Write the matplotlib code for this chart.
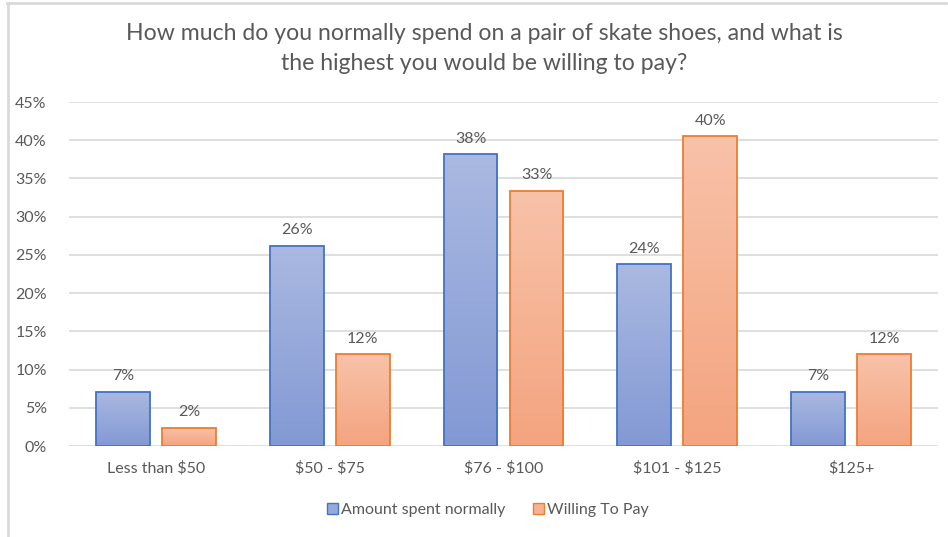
import matplotlib.pyplot as plt
import matplotlib.lines as mlines
import matplotlib.patches as mpatches
import numpy as np

plt.rcParams['font.family'] = ['Lato', 'DejaVu Sans']
plt.rcParams['text.parse_math'] = False

categories = ['Less than $50', '$50 - $75', '$76 - $100', '$101 - $125', '$125+']
spent = [7.1, 26.2, 38.2, 23.8, 7.1]
willing = [2.4, 12.0, 33.4, 40.5, 12.0]
series_names = ['Amount spent normally', 'Willing To Pay']
yticks = [0, 5, 10, 15, 20, 25, 30, 35, 40, 45]

grey = '#595959'
grid_col = '#D9D9D9'
blue_edge, orange_edge = '#4472C4', '#ED7D31'
blue_grad = ('#AAB9E1', '#8399D4')   # top, bottom
orange_grad = ('#F8C2A9', '#F4A47F')


def fill_gradient(ax, bar, top, bottom):
    x0, y0 = bar.get_x(), bar.get_y()
    w, h = bar.get_width(), bar.get_height()
    c_top = np.array(plt.matplotlib.colors.to_rgb(top))
    c_bot = np.array(plt.matplotlib.colors.to_rgb(bottom))
    t = np.linspace(0, 1, 256)[:, None]
    img = (c_bot * (1 - t) + c_top * t)[:, None, :]
    im = ax.imshow(img, extent=[x0, x0 + w, y0, y0 + h], origin='lower',
                   aspect='auto', zorder=2)
    im.set_clip_path(bar)


fig = plt.figure(figsize=(9.48, 5.37), dpi=100)
ax = fig.add_axes([69 / 948, 1 - 446 / 537, (938 - 69) / 948, (446 - 102) / 537])

x = np.arange(len(categories))
bw, off = 0.31, 0.19
b1 = ax.bar(x - off, spent, bw, facecolor='none', edgecolor=blue_edge,
            linewidth=1.3, zorder=3)
b2 = ax.bar(x + off, willing, bw, facecolor='none', edgecolor=orange_edge,
            linewidth=1.3, zorder=3)
for bar in b1:
    fill_gradient(ax, bar, *blue_grad)
for bar in b2:
    fill_gradient(ax, bar, *orange_grad)

for bars, vals in ((b1, spent), (b2, willing)):
    for bar, v in zip(bars, vals):
        ax.text(bar.get_x() + bar.get_width() / 2, v + 1.1, f'{v:.0f}%',
                ha='center', va='bottom', fontsize=11.5, color=grey)

ax.set_xlim(-0.5, len(categories) - 0.5)
ax.set_ylim(0, 45)
ax.set_yticks(yticks)
ax.set_yticklabels([f'{t}%' for t in yticks])
ax.set_xticks(x)
ax.set_xticklabels(categories)
ax.tick_params(length=0, labelsize=11.5, colors=grey)
ax.tick_params(axis='y', pad=16)
ax.tick_params(axis='x', pad=11)
for s in ax.spines.values():
    s.set_visible(False)
ax.grid(axis='y', color=grid_col, linewidth=1.2, zorder=0)
ax.set_axisbelow(True)

fig.text(484 / 948, 1 - 33 / 537, 'How much do you normally spend on a pair of skate shoes, and what is',
         ha='center', va='center', fontsize=16.6, color=grey)
fig.text(484 / 948, 1 - 64 / 537, 'the highest you would be willing to pay?',
         ha='center', va='center', fontsize=16.6, color=grey)

handles = [mpatches.Patch(facecolor='#97A9DA', edgecolor=blue_edge, label=series_names[0]),
           mpatches.Patch(facecolor='#F6B394', edgecolor=orange_edge, label=series_names[1])]
fig.legend(handles=handles, loc='center', bbox_to_anchor=(488 / 948, 1 - 510 / 537),
           ncol=2, frameon=False, fontsize=11.5, labelcolor=grey,
           handlelength=0.7, handleheight=0.7, handletextpad=0.2, columnspacing=1.7)

# chart-area border (top and left edges)
fig.add_artist(mlines.Line2D([7.5 / 948, 7.5 / 948], [0, 1 - 2.5 / 537],
                             color=grid_col, linewidth=2))
fig.add_artist(mlines.Line2D([7 / 948, 946 / 948], [1 - 2.5 / 537, 1 - 2.5 / 537],
                             color=grid_col, linewidth=2))

fig.savefig('out.png', dpi=100)
